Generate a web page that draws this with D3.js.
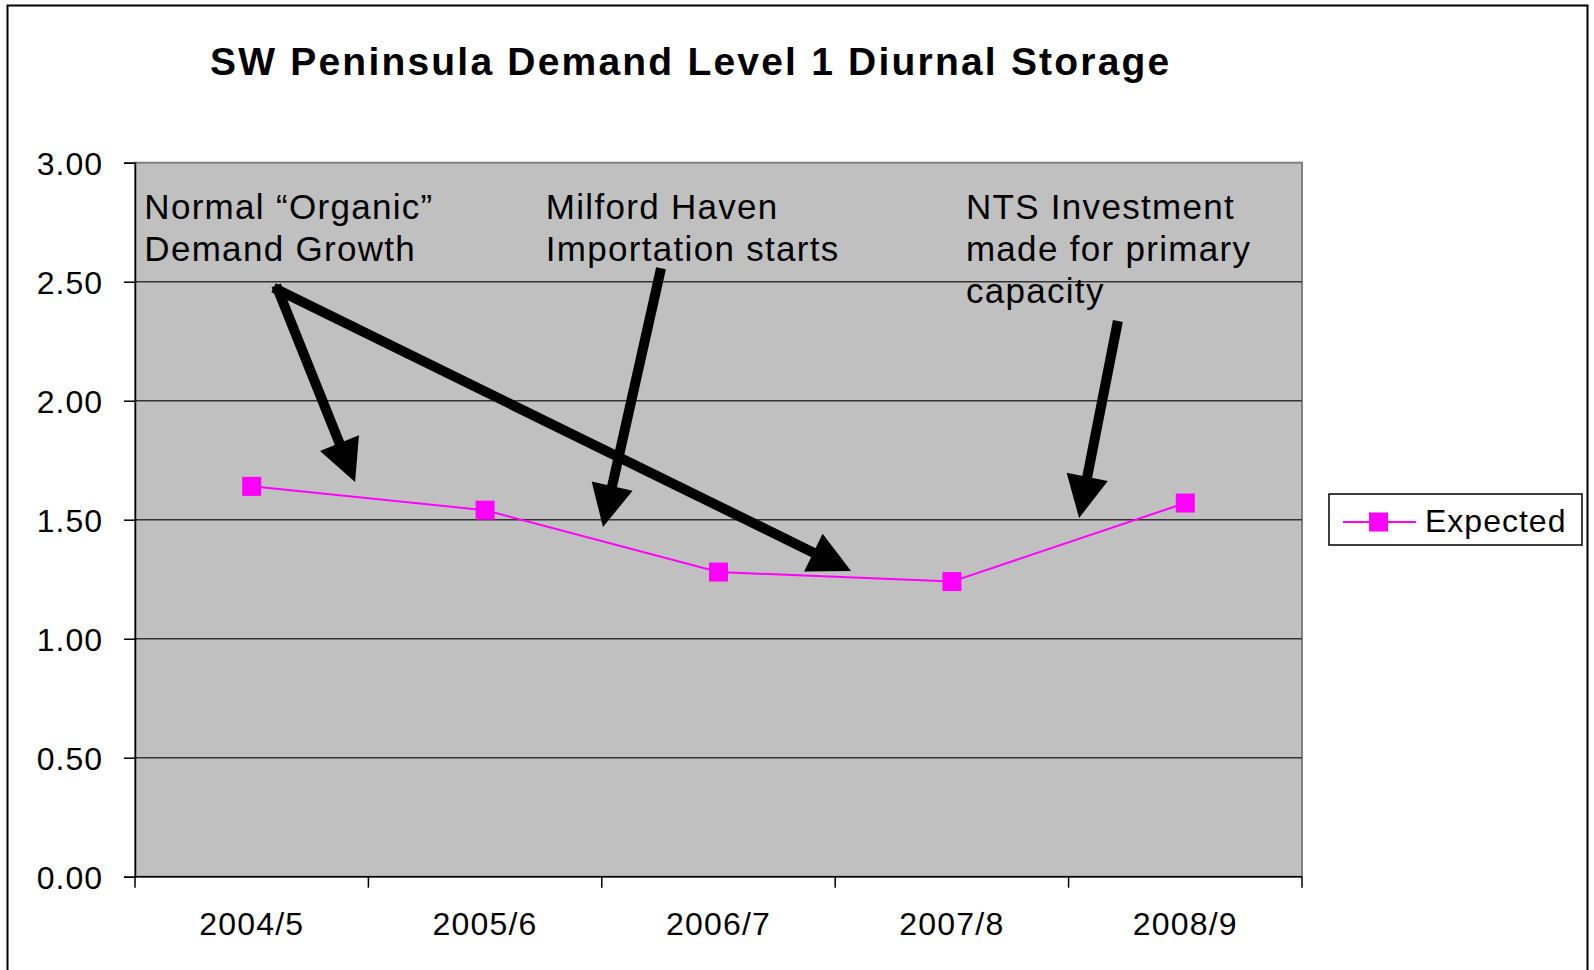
<!DOCTYPE html>
<html>
<head>
<meta charset="utf-8">
<title>SW Peninsula Demand Level 1 Diurnal Storage</title>
<style>
body { margin: 0; background: white; }
text { font-family: 'Liberation Sans', Arial, sans-serif; fill: black; }
.title { font-size: 39px; font-weight: bold; letter-spacing: 2.2px; }
.ytick { font-size: 32px; letter-spacing: 1px; text-anchor: end; }
.xtick { font-size: 32px; letter-spacing: 1.2px; text-anchor: middle; }
.note { font-size: 35px; letter-spacing: 1.3px; }
.legend-label { font-size: 32px; letter-spacing: 1px; }
</style>
</head>
<body>
<svg width="1594" height="970"></svg>
<script src="https://d3js.org/d3.v7.min.js"></script>
<script>
// data
var years = ["2004/5", "2005/6", "2006/7", "2007/8", "2008/9"];
var expected = [1.64, 1.54, 1.28, 1.24, 1.57];
var yTicks = [0, 0.5, 1, 1.5, 2, 2.5, 3];

// annotation arrows, in chart units: [band position, value]
var arrows = [
  { from: [0.613, 2.465], to: [0.943, 1.658] },
  { from: [0.613, 2.465], to: [3.068, 1.284] },
  { from: [2.249, 2.536], to: [2.005, 1.469] },
  { from: [4.207, 2.314], to: [4.045, 1.507] }
];
var notes = [
  { at: 0.04, lines: ["Normal \u201cOrganic\u201d", "Demand Growth"] },
  { at: 1.76, lines: ["Milford Haven", "Importation starts"] },
  { at: 3.56, lines: ["NTS Investment", "made for primary", "capacity"] }
];

var svg = d3.select("svg");
var plotLeft = 135, plotRight = 1302, plotTop = 162.7, plotBottom = 876.7;

var x = d3.scaleBand().domain(years).range([plotLeft, plotRight]);
var xPos = d3.scaleLinear().domain([0, years.length]).range([plotLeft, plotRight]);
var y = d3.scaleLinear().domain([0, 3]).range([plotBottom, plotTop]);

// outer frame
svg.append("rect")
  .attr("x", 7.5).attr("y", 5.5)
  .attr("width", 1580).attr("height", 980)
  .attr("fill", "white").attr("stroke", "black").attr("stroke-width", 2);

svg.append("text")
  .attr("class", "title")
  .attr("x", 210).attr("y", 75)
  .text("SW Peninsula Demand Level 1 Diurnal Storage");

// plot area
svg.append("rect")
  .attr("x", plotLeft).attr("y", plotTop)
  .attr("width", plotRight - plotLeft).attr("height", plotBottom - plotTop)
  .attr("fill", "#c0c0c0").attr("stroke", "#808080").attr("stroke-width", 2);

svg.append("g")
  .selectAll("line")
  .data(yTicks.filter(d => d > 0 && d < 3))
  .enter().append("line")
  .attr("x1", plotLeft).attr("x2", plotRight)
  .attr("y1", d => y(d)).attr("y2", d => y(d))
  .attr("stroke", "#333").attr("stroke-width", 1.5);

// y axis
var yAxis = svg.append("g")
  .attr("transform", `translate(${plotLeft},0)`)
  .call(d3.axisLeft(y).tickValues(yTicks).tickSize(11).tickPadding(21).tickFormat(d3.format(".2f")));
yAxis.select(".domain").attr("stroke", "black").attr("stroke-width", 1.5);
yAxis.selectAll(".tick line").attr("stroke", "black").attr("stroke-width", 1.5);
yAxis.selectAll(".tick text").attr("class", "ytick");
yAxis.attr("font-size", null).attr("font-family", null);
yAxis.selectAll(".tick text").attr("dy", "0.36em");

// x axis, ticks between categories
var xAxis = svg.append("g")
  .attr("transform", `translate(0,${plotBottom})`);
xAxis.append("line")
  .attr("x1", plotLeft).attr("x2", plotRight)
  .attr("stroke", "black").attr("stroke-width", 1.5);
xAxis.selectAll(".xt")
  .data(d3.range(years.length + 1))
  .enter().append("line")
  .attr("x1", d => xPos(d)).attr("x2", d => xPos(d))
  .attr("y1", 0).attr("y2", 11)
  .attr("stroke", "black").attr("stroke-width", 1.5);
xAxis.selectAll("text")
  .data(years)
  .enter().append("text")
  .attr("class", "xtick")
  .attr("x", d => x(d) + x.bandwidth() / 2)
  .attr("y", 58)
  .text(d => d);

// series
var line = d3.line()
  .x((d, i) => x(years[i]) + x.bandwidth() / 2)
  .y(d => y(d));
svg.append("path")
  .datum(expected)
  .attr("d", line)
  .attr("fill", "none")
  .attr("stroke", "#ff00ff")
  .attr("stroke-width", 2);
svg.append("g")
  .selectAll("rect")
  .data(expected)
  .enter().append("rect")
  .attr("x", (d, i) => x(years[i]) + x.bandwidth() / 2 - 9.5)
  .attr("y", d => y(d) - 9.5)
  .attr("width", 19).attr("height", 19)
  .attr("fill", "#ff00ff");

// annotation text
notes.forEach(function (n) {
  var t = svg.append("text").attr("class", "note");
  n.lines.forEach(function (s, i) {
    t.append("tspan")
      .attr("x", xPos(n.at))
      .attr("y", 219 + i * 42)
      .text(s);
  });
});

// arrows
var headLen = 42, headHalf = 21;
arrows.forEach(function (a) {
  var x1 = xPos(a.from[0]), y1 = y(a.from[1]);
  var x2 = xPos(a.to[0]), y2 = y(a.to[1]);
  var dx = x2 - x1, dy = y2 - y1, len = Math.sqrt(dx * dx + dy * dy);
  var ux = dx / len, uy = dy / len;
  var bx = x2 - ux * headLen, by = y2 - uy * headLen;
  svg.append("line")
    .attr("x1", x1).attr("y1", y1)
    .attr("x2", bx + ux * 2).attr("y2", by + uy * 2)
    .attr("stroke", "black").attr("stroke-width", 10)
    .attr("stroke-linecap", "square");
  svg.append("polygon")
    .attr("points", [
      [x2, y2],
      [bx - uy * headHalf, by + ux * headHalf],
      [bx + uy * headHalf, by - ux * headHalf]
    ].map(p => p.join(",")).join(" "))
    .attr("fill", "black");
});

// legend
var legend = svg.append("g").attr("transform", "translate(1329,494)");
legend.append("rect")
  .attr("width", 253).attr("height", 51)
  .attr("fill", "white").attr("stroke", "black").attr("stroke-width", 1.5);
legend.append("line")
  .attr("x1", 14).attr("x2", 87).attr("y1", 28).attr("y2", 28)
  .attr("stroke", "#ff00ff").attr("stroke-width", 2);
legend.append("rect")
  .attr("x", 40).attr("y", 18.5).attr("width", 19).attr("height", 19)
  .attr("fill", "#ff00ff");
legend.append("text")
  .attr("class", "legend-label")
  .attr("x", 96).attr("y", 38)
  .text("Expected");
</script>
</body>
</html>
